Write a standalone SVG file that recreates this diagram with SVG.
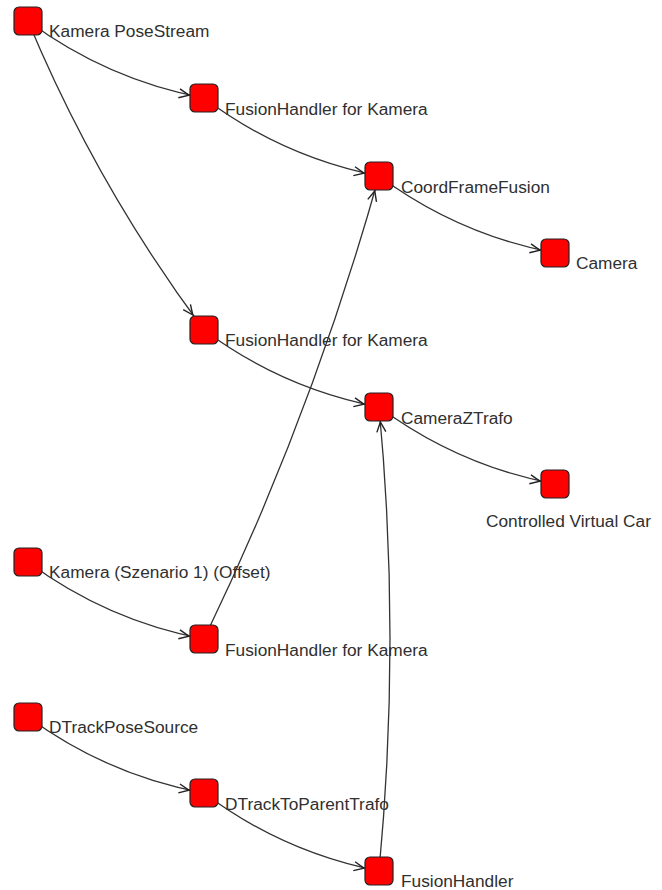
<svg xmlns="http://www.w3.org/2000/svg" width="662" height="890" viewBox="0 0 662 890">
<style>
  .edge { fill: none; stroke: #333333; stroke-width: 1.3; }
  .arrow { fill: none; stroke: #222222; stroke-width: 1.4; stroke-linejoin: miter; }
  .node rect { fill: #ff0000; stroke: #222222; stroke-width: 1.2; }
  .node text { font-family: "Liberation Sans", Arial, sans-serif; font-size: 17.3px; fill: #303030; }
</style>
<defs>
  <path id="ah" class="arrow" d="M -10,-4.5 L 0,0 L -10,4.5"/>
</defs>
<rect x="0" y="0" width="662" height="890" fill="#ffffff"/>
<g id="connectors">
  <path class="edge" d="M 28,21 Q 107.2,79.7 204,98"/>
  <path class="edge" d="M 28,21 Q 96.9,186.4 204,330"/>
  <path class="edge" d="M 204,98 Q 282.5,157.1 379,176"/>
  <path class="edge" d="M 379,176 Q 458.2,234.7 555,253"/>
  <path class="edge" d="M 204,330 Q 282.6,388.6 379,407"/>
  <path class="edge" d="M 379,407 Q 458.2,465.7 555,484"/>
  <path class="edge" d="M 28,562 Q 107.2,620.7 204,639"/>
  <path class="edge" d="M 204,639 Q 312.1,415.3 379,176"/>
  <path class="edge" d="M 28,717 Q 107.3,775.2 204,793"/>
  <path class="edge" d="M 204,793 Q 282.5,852.1 379,871"/>
  <path class="edge" d="M 379,871 Q 401,639 379,407"/>
  <use href="#ah" transform="translate(189,95.2) rotate(10.7)"/>
  <use href="#ah" transform="translate(192.8,315) rotate(53.3)"/>
  <use href="#ah" transform="translate(364,173.1) rotate(11.1)"/>
  <use href="#ah" transform="translate(540,250.2) rotate(10.7)"/>
  <use href="#ah" transform="translate(364,404.1) rotate(10.8)"/>
  <use href="#ah" transform="translate(540,481.2) rotate(10.7)"/>
  <use href="#ah" transform="translate(189,636.2) rotate(10.7)"/>
  <use href="#ah" transform="translate(374.8,191) rotate(-74.4)"/>
  <use href="#ah" transform="translate(189,790.2) rotate(10.4)"/>
  <use href="#ah" transform="translate(364,868.1) rotate(11.1)"/>
  <use href="#ah" transform="translate(380.4,422) rotate(-95.4)"/>
</g>
<g id="n1" class="node"><rect x="14" y="7" width="28" height="28" rx="5"/><text x="49" y="37">Kamera PoseStream</text></g>
<g id="n2" class="node"><rect x="190" y="84" width="28" height="28" rx="5"/><text x="225" y="114.5">FusionHandler for Kamera</text></g>
<g id="n3" class="node"><rect x="365" y="162" width="28" height="28" rx="5"/><text x="401" y="192.5">CoordFrameFusion</text></g>
<g id="n4" class="node"><rect x="541" y="239" width="28" height="28" rx="5"/><text x="576" y="269">Camera</text></g>
<g id="n5" class="node"><rect x="190" y="316" width="28" height="28" rx="5"/><text x="225" y="346">FusionHandler for Kamera</text></g>
<g id="n6" class="node"><rect x="365" y="393" width="28" height="28" rx="5"/><text x="401" y="423.5">CameraZTrafo</text></g>
<g id="n7" class="node"><rect x="541" y="470" width="28" height="28" rx="5"/><text x="486" y="527">Controlled Virtual Car</text></g>
<g id="n8" class="node"><rect x="14" y="548" width="28" height="28" rx="5"/><text x="49" y="578">Kamera (Szenario 1) (Offset)</text></g>
<g id="n9" class="node"><rect x="190" y="625" width="28" height="28" rx="5"/><text x="225" y="655.5">FusionHandler for Kamera</text></g>
<g id="n10" class="node"><rect x="14" y="703" width="28" height="28" rx="5"/><text x="49" y="733">DTrackPoseSource</text></g>
<g id="n11" class="node"><rect x="190" y="779" width="28" height="28" rx="5"/><text x="225" y="809.5">DTrackToParentTrafo</text></g>
<g id="n12" class="node"><rect x="365" y="857" width="28" height="28" rx="5"/><text x="401" y="887">FusionHandler</text></g>
</svg>
